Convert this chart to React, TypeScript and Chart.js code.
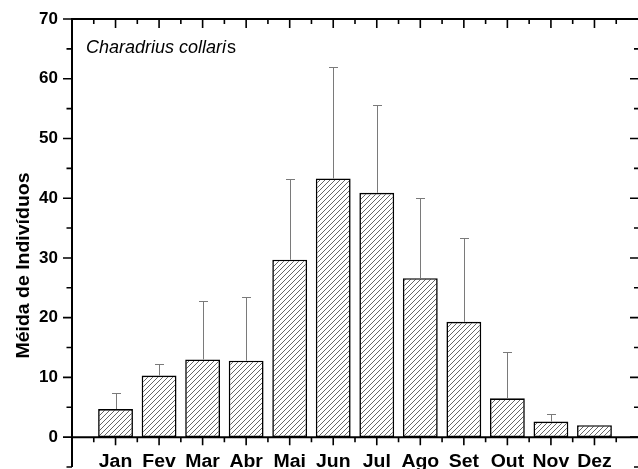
import React, { useEffect, useRef } from "react";
import { Chart, registerables } from "chart.js";

Chart.register(...registerables);

const months = ["Jan", "Fev", "Mar", "Abr", "Mai", "Jun", "Jul", "Ago", "Set", "Out", "Nov", "Dez"];
const means = [4.7, 10.3, 13.0, 12.8, 29.7, 43.3, 40.9, 26.6, 19.3, 6.5, 2.6, 2.0];
const errUpper = [7.4, 12.3, 22.8, 23.4, 43.2, 62.0, 55.6, 40.1, 33.3, 14.2, 3.8, 2.0];
const yTickValues = [0, 10, 20, 30, 40, 50, 60, 70];
const yTitle = "Méida de Indivíduos";
const speciesItalic = "Charadrius collari";
const speciesTail = "s";

function makeHatch(): CanvasPattern | string {
  const s = 5;
  const c = document.createElement("canvas");
  c.width = s;
  c.height = s;
  const g = c.getContext("2d");
  if (!g) return "#fff";
  g.fillStyle = "#ffffff";
  g.fillRect(0, 0, s, s);
  g.strokeStyle = "#4a4a4a";
  g.lineWidth = 0.85;
  g.beginPath();
  g.moveTo(0, s);
  g.lineTo(s, 0);
  g.moveTo(-1, 1);
  g.lineTo(1, -1);
  g.moveTo(s - 1, s + 1);
  g.lineTo(s + 1, s - 1);
  g.stroke();
  return g.createPattern(c, "repeat") || "#fff";
}

const decorPlugin = {
  id: "decor",
  afterDatasetsDraw(chart: any) {
    const ctx = chart.ctx;
    const xs = chart.scales.x;
    const ys = chart.scales.y;
    ctx.save();
    ctx.strokeStyle = "#7a7a7a";
    ctx.lineWidth = 1;
    means.forEach((v, i) => {
      const e = errUpper[i];
      if (e <= v) return;
      const x = Math.round(xs.getPixelForValue(i + 1)) + 0.5;
      const y0 = ys.getPixelForValue(v);
      const y1 = Math.round(ys.getPixelForValue(e)) + 0.5;
      ctx.beginPath();
      ctx.moveTo(x, y0);
      ctx.lineTo(x, y1);
      ctx.moveTo(x - 4.5, y1);
      ctx.lineTo(x + 4.5, y1);
      ctx.stroke();
    });
    ctx.restore();
  },
  afterDraw(chart: any) {
    const ctx = chart.ctx;
    const xs = chart.scales.x;
    const ys = chart.scales.y;
    const a = chart.chartArea;
    const left = a.left;
    const right = a.right;
    const top = a.top;
    const bottom = a.bottom;
    const y0 = ys.getPixelForValue(0);
    ctx.save();
    ctx.strokeStyle = "#000";
    ctx.lineWidth = 2;
    ctx.beginPath();
    ctx.moveTo(left, top - 1);
    ctx.lineTo(left, bottom);
    ctx.moveTo(left - 1, top);
    ctx.lineTo(right, top);
    ctx.moveTo(left, y0);
    ctx.lineTo(right, y0);
    ctx.stroke();

    ctx.lineWidth = 1.6;
    ctx.beginPath();
    for (let v = -5; v <= 70; v += 5) {
      const y = ys.getPixelForValue(v);
      const major = v % 10 === 0;
      ctx.moveTo(left, y);
      ctx.lineTo(left - (major ? 9 : 5.5), y);
      ctx.moveTo(right, y);
      ctx.lineTo(right - (major ? 8 : 4), y);
    }
    for (let k = 1; k <= 25; k++) {
      const v = k / 2;
      const x = xs.getPixelForValue(v);
      const major = k % 2 === 0;
      ctx.moveTo(x, top);
      ctx.lineTo(x, top + (major ? 9 : 5));
      ctx.moveTo(x, y0);
      ctx.lineTo(x, y0 + (major ? 8 : 5));
    }
    ctx.stroke();

    ctx.fillStyle = "#000";
    ctx.font = "bold 18px 'Liberation Sans', Arial, sans-serif";
    ctx.textAlign = "center";
    ctx.textBaseline = "alphabetic";
    months.forEach((m, i) => {
      const cx = xs.getPixelForValue(i + 1);
      ctx.save();
      ctx.translate(cx, 467);
      ctx.scale(1.08, 1);
      ctx.fillText(m, 0, 0);
      ctx.restore();
    });

    ctx.textAlign = "left";
    ctx.font = "italic 18px 'Liberation Sans', Arial, sans-serif";
    const sx = 86;
    const sy = 53;
    ctx.fillText(speciesItalic, sx, sy);
    const w = ctx.measureText(speciesItalic).width;
    ctx.font = "18px 'Liberation Sans', Arial, sans-serif";
    ctx.fillText(speciesTail, sx + w + 1, sy);

    ctx.translate(29, 265.5);
    ctx.rotate(-Math.PI / 2);
    ctx.font = "bold 18px 'Liberation Sans', Arial, sans-serif";
    const tw = ctx.measureText(yTitle).width;
    ctx.scale(186 / tw, 1);
    ctx.textAlign = "center";
    ctx.textBaseline = "alphabetic";
    ctx.fillText(yTitle, 0, 0);
    ctx.restore();
  },
};

export default function App() {
  const ref = useRef<HTMLCanvasElement | null>(null);
  useEffect(() => {
    const canvas = ref.current;
    if (!canvas) return;
    const hatch = makeHatch();
    const chart = new Chart(canvas, {
      type: "bar",
      data: {
        datasets: [
          {
            data: means.map((v, i) => ({ x: i + 1, y: v })),
            backgroundColor: hatch as any,
            borderColor: "#000",
            borderWidth: 1.6,
            borderSkipped: false,
            barPercentage: 0.8,
            categoryPercentage: 1,
          },
        ],
      },
      options: {
        animation: false,
        responsive: false,
        devicePixelRatio: 1,
        events: [],
        layout: { padding: { top: 19, bottom: 2, left: 0, right: 0 } },
        plugins: { legend: { display: false }, tooltip: { enabled: false }, title: { display: false } },
        scales: {
          x: {
            type: "linear",
            min: 0,
            max: 13,
            offset: false,
            display: false,
            grid: { display: false, offset: false },
          },
          y: {
            type: "linear",
            min: -5,
            max: 70,
            grid: { display: false, drawTicks: false },
            border: { display: false },
            afterBuildTicks: (scale: any) => {
              scale.ticks = yTickValues.map((v) => ({ value: v }));
            },
            afterFit: (scale: any) => {
              scale.width = 72;
              scale.paddingTop = 0;
              scale.paddingBottom = 0;
            },
            ticks: {
              padding: 14,
              color: "#000",
              font: { family: "'Liberation Sans', Arial, sans-serif", size: 17, weight: "bold" },
              callback: (v: any) => String(v),
            },
          },
        },
      },
      plugins: [decorPlugin],
    });
    return () => chart.destroy();
  }, []);
  return (
    <div style={{ position: "fixed", left: 0, top: 0, width: 638, height: 469, background: "#fff" }}>
      <canvas ref={ref} width={638} height={469} style={{ display: "block" }} />
    </div>
  );
}
